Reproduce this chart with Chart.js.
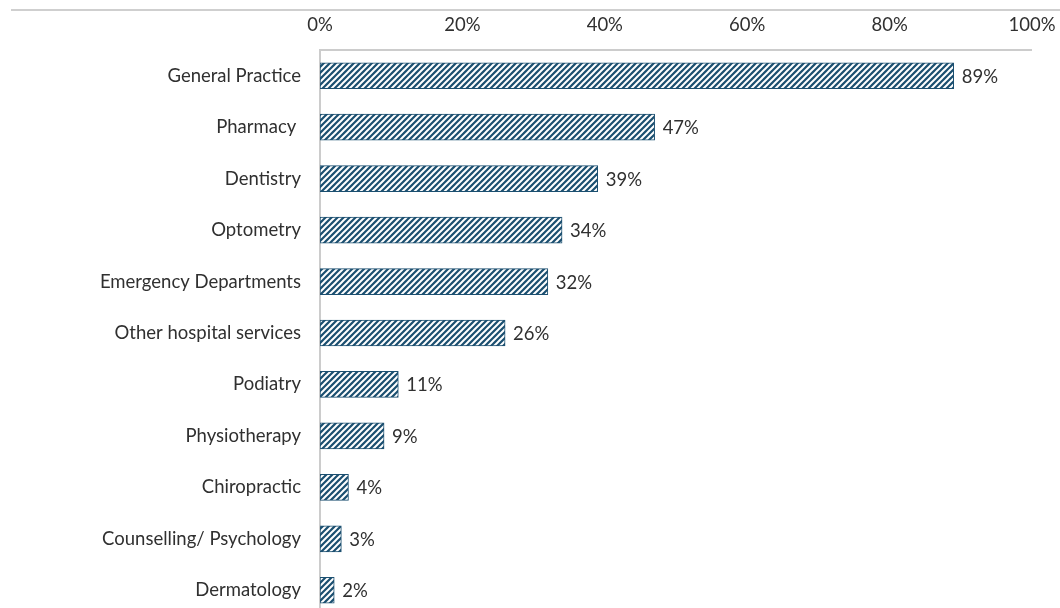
<!DOCTYPE html>
<html>
<head>
<meta charset="utf-8">
<script src="https://cdn.jsdelivr.net/npm/chart.js@4"></script>
<style>
    html, body { margin: 0; padding: 0; background: #fff; overflow: hidden; }
    #wrap { position: relative; width: 1060px; height: 616px; }
    #rule { position: absolute; left: 11px; top: 9px; width: 1049px; height: 2px; background: #cfcfcf; }
    canvas { position: absolute; left: 0; top: 0; }
</style>
</head>
<body>
<div id="wrap">
    <div id="rule"></div>
    <canvas id="services" width="1060" height="616"></canvas>
</div>
<script>
const services = [
    "General Practice",
    "Pharmacy ",
    "Dentistry",
    "Optometry",
    "Emergency Departments",
    "Other hospital services",
    "Podiatry",
    "Physiotherapy",
    "Chiropractic",
    "Counselling/ Psychology",
    "Dermatology"
];
const shares = [89, 47, 39, 34, 32, 26, 11, 9, 4, 3, 2];
const xTicks = [0, 20, 40, 60, 80, 100];

const BAR_BLUE = "#1b4f70";
const TEXT = "#303030";
const AXIS = "#cccccc";
const FONT = "Lato, 'Open Sans', sans-serif";
const FONT_SIZE = 18.5;

// diagonal white stripes over dark blue
function makeHatch() {
    const size = 6;
    const c = document.createElement("canvas");
    c.width = size;
    c.height = size;
    const g = c.getContext("2d");
    g.fillStyle = BAR_BLUE;
    g.fillRect(0, 0, size, size);
    g.strokeStyle = "#ffffff";
    g.lineWidth = 2;
    g.beginPath();
    g.moveTo(0, size);
    g.lineTo(size, 0);
    g.moveTo(-size / 2, size / 2);
    g.lineTo(size / 2, -size / 2);
    g.moveTo(size / 2, size * 1.5);
    g.lineTo(size * 1.5, size / 2);
    g.stroke();
    return g.createPattern(c, "repeat");
}

// no extra room for overflowing tick labels, the layout padding decides
function noOverflow(scale) {
    scale.paddingLeft = 0;
    scale.paddingRight = 0;
    scale.paddingTop = 0;
    scale.paddingBottom = 0;
}

// top axis line limited to the plot width
const topAxisLine = {
    id: "topAxisLine",
    beforeDatasetsDraw(chart) {
        const { ctx, chartArea } = chart;
        ctx.save();
        ctx.strokeStyle = AXIS;
        ctx.lineWidth = 2;
        ctx.beginPath();
        ctx.moveTo(chartArea.left, chartArea.top);
        ctx.lineTo(chartArea.right, chartArea.top);
        ctx.stroke();
        ctx.restore();
    }
};

const valueLabels = {
    id: "valueLabels",
    afterDatasetsDraw(chart) {
        const ctx = chart.ctx;
        const meta = chart.getDatasetMeta(0);
        ctx.save();
        ctx.font = FONT_SIZE + "px " + FONT;
        ctx.fillStyle = TEXT;
        ctx.textAlign = "left";
        ctx.textBaseline = "middle";
        meta.data.forEach((bar, i) => {
            ctx.fillText(shares[i] + "%", bar.x + 8, bar.y + 1);
        });
        ctx.restore();
    }
};

new Chart(document.getElementById("services").getContext("2d"), {
    type: "bar",
    data: {
        labels: services,
        datasets: [{
            data: shares,
            backgroundColor: makeHatch(),
            borderColor: BAR_BLUE,
            borderWidth: 1,
            borderSkipped: false,
            barThickness: 26
        }]
    },
    options: {
        indexAxis: "y",
        responsive: false,
        maintainAspectRatio: false,
        animation: false,
        layout: { padding: { top: 0, right: 28, bottom: 0, left: 0 } },
        plugins: {
            legend: { display: false },
            tooltip: { enabled: false }
        },
        scales: {
            x: {
                position: "top",
                min: 0,
                max: 100,
                afterFit(scale) { scale.height = 50; noOverflow(scale); },
                afterBuildTicks(scale) { scale.ticks = xTicks.map(v => ({ value: v })); },
                grid: { display: false, drawTicks: false },
                border: { display: false },
                ticks: {
                    color: TEXT,
                    font: { family: FONT, size: FONT_SIZE },
                    padding: 14,
                    maxRotation: 0,
                    callback: v => v + "%"
                }
            },
            y: {
                afterFit(scale) { scale.width = 320; noOverflow(scale); },
                grid: { display: false, drawTicks: false },
                border: { display: true, color: AXIS, width: 2 },
                ticks: {
                    color: TEXT,
                    font: { family: FONT, size: FONT_SIZE },
                    padding: 19
                }
            }
        }
    },
    plugins: [topAxisLine, valueLabels]
});
</script>
</body>
</html>
